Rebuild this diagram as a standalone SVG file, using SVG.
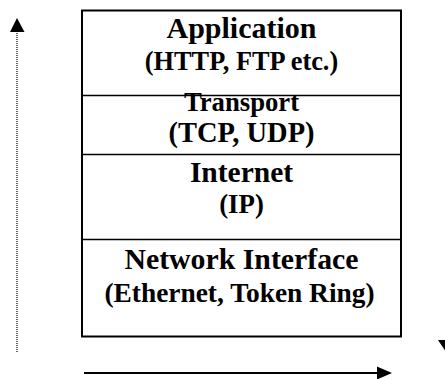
<svg xmlns="http://www.w3.org/2000/svg" width="445" height="379" viewBox="0 0 445 379">
<style>
.t{font-family:"Liberation Serif","Times New Roman",serif;font-weight:bold;fill:#000;text-anchor:middle}
.box{fill:#fff;stroke:#000;stroke-width:2}
.div{stroke:#000;stroke-width:1.5}
</style>
<rect width="445" height="379" fill="#fff"/>
<g id="stack">
<rect class="box" x="82" y="10.5" width="319" height="326"/>
</g>
<g id="application">
<line class="div" x1="82" y1="95.5" x2="401" y2="95.5"/>
<text class="t" x="241.5" y="38" font-size="30">Application</text>
<text class="t" x="241.5" y="70" font-size="26.3">(HTTP, FTP etc.)</text>
</g>
<g id="transport">
<line class="div" x1="82" y1="154.5" x2="401" y2="154.5"/>
<text class="t" x="241.5" y="111" font-size="26.7">Transport</text>
<text class="t" x="241.5" y="142" font-size="28.5">(TCP, UDP)</text>
</g>
<g id="internet">
<line class="div" x1="82" y1="239.5" x2="401" y2="239.5"/>
<text class="t" x="241.5" y="181.5" font-size="29.5">Internet</text>
<text class="t" x="241.5" y="213" font-size="26.8">(IP)</text>
</g>
<g id="network">
<text class="t" x="241.5" y="269" font-size="29.8">Network Interface</text>
<text class="t" x="239.5" y="301.5" font-size="27.4">(Ethernet, Token Ring)</text>
</g>
<g id="connectors">
<line x1="17" y1="352" x2="17" y2="31" stroke="#000" stroke-width="1.2" stroke-dasharray="1,1"/>
<polygon points="17,18 10,32 24.5,32" fill="#000"/>
<line x1="84" y1="373" x2="379" y2="373" stroke="#000" stroke-width="2"/>
<polygon points="392,373 377,366.5 377,379.5" fill="#000"/>
<polygon points="438,340 454,340 446,352" fill="#000"/>
</g>
</svg>
